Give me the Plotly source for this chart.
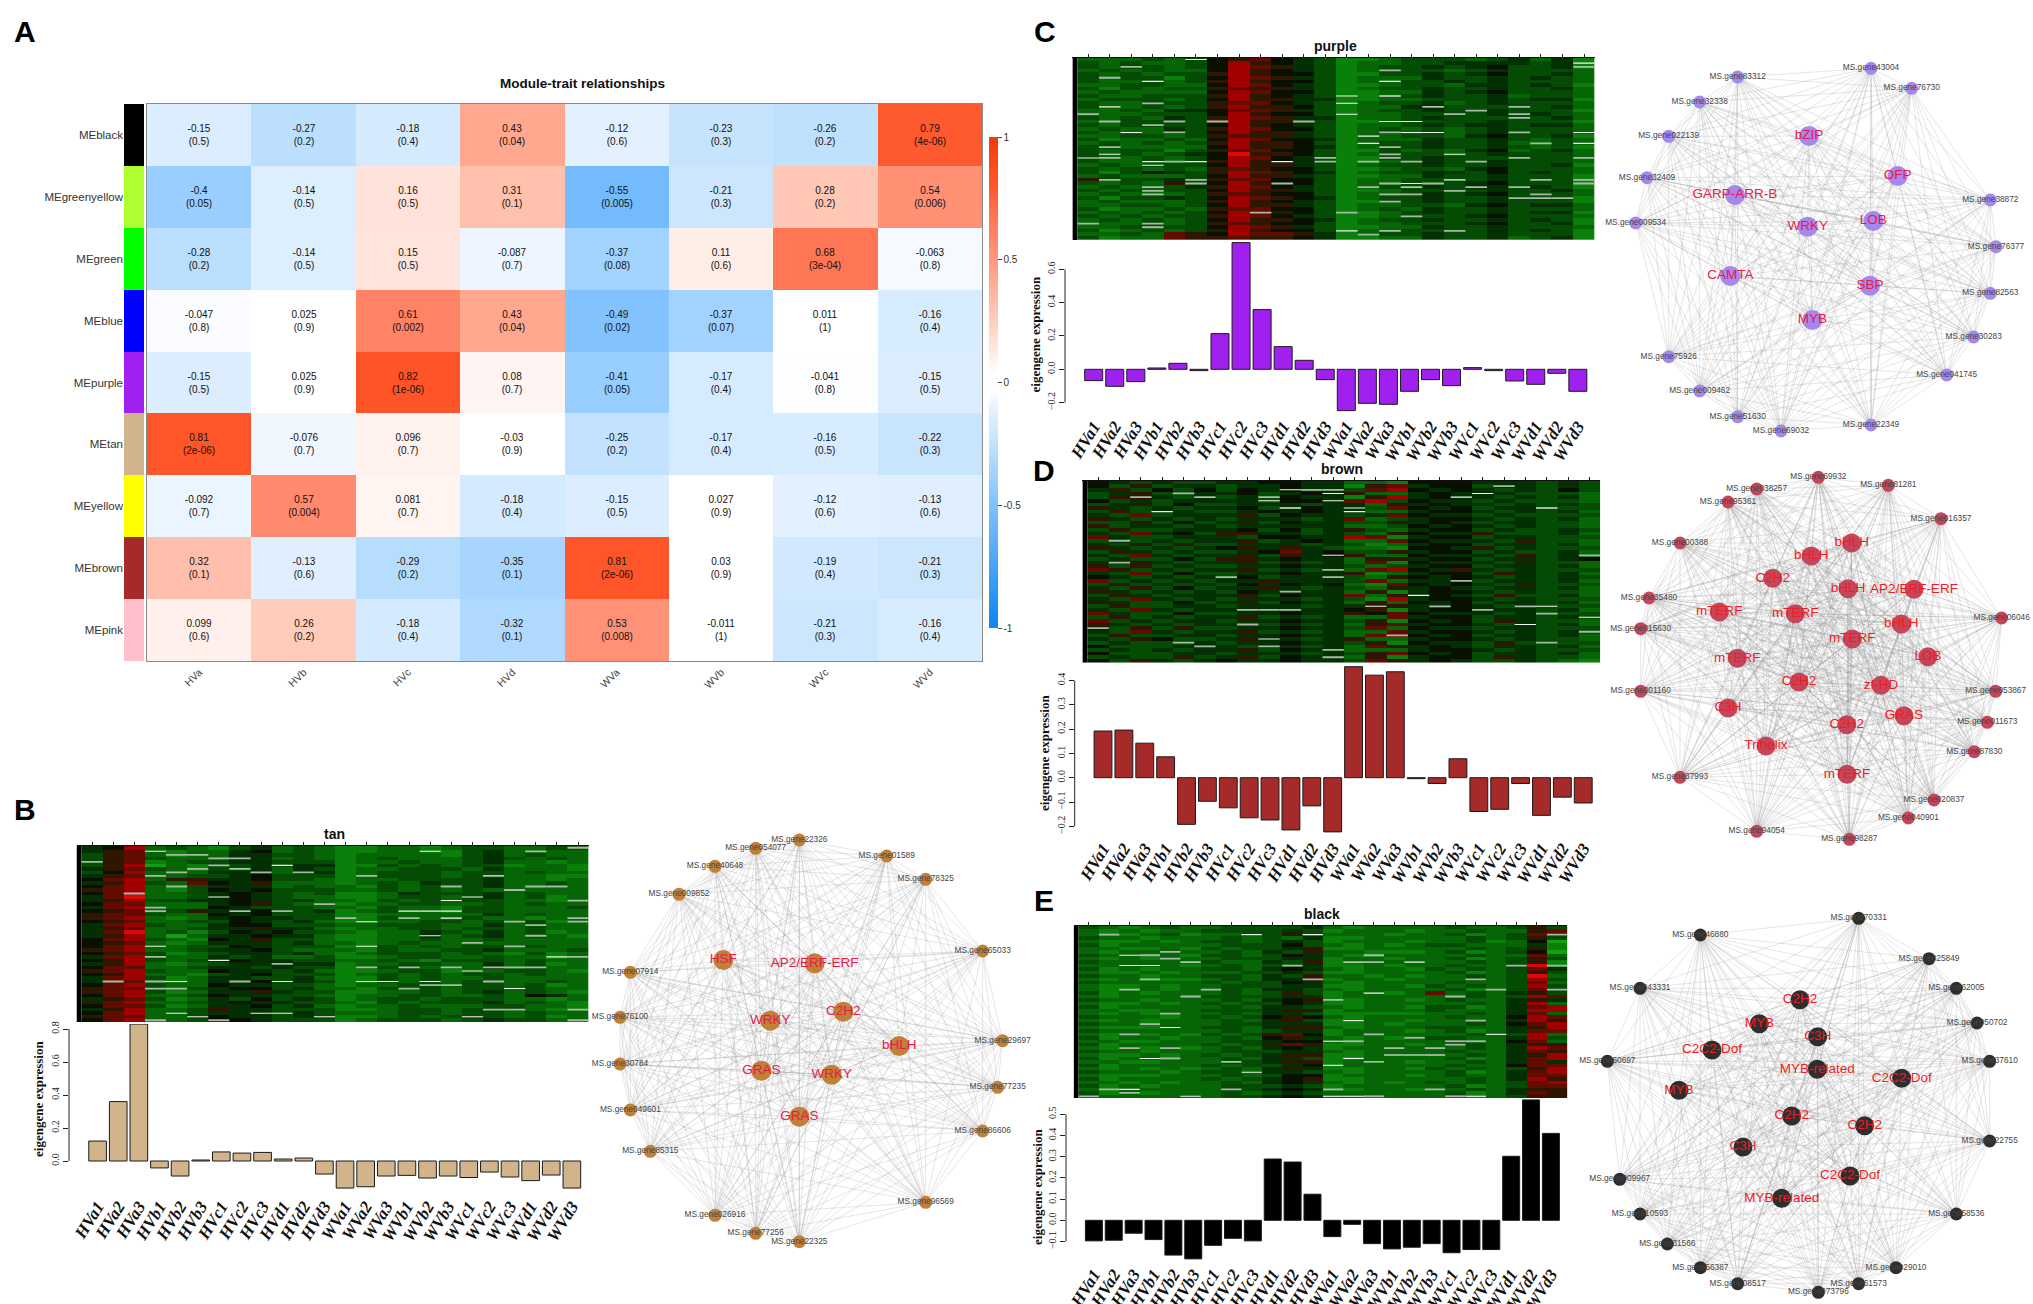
"""Five-panel WGCNA figure: module-trait heatmap, module expression heatmaps,
eigengene bars and hub-gene networks."""
from itertools import combinations

import plotly.graph_objects as go

W, H = 2033, 1304
SANS = "Liberation Sans"
SERIF = "Liberation Serif"

# ---- panel A data ----
TRAITS = ["HVa", "HVb", "HVc", "HVd", "WVa", "WVb", "WVc", "WVd"]
MODULES = ["MEblack", "MEgreenyellow", "MEgreen", "MEblue", "MEpurple", "MEtan", "MEyellow", "MEbrown", "MEpink"]
MODULE_COLORS = ["#000000", "#ADFF2F", "#00FF00", "#0000FF", "#A020F0", "#D2B48C", "#FFFF00", "#A52A2A", "#FFC0CB"]
CORR = [
    [-0.15, -0.27, -0.18, 0.43, -0.12, -0.23, -0.26, 0.79],
    [-0.4, -0.14, 0.16, 0.31, -0.55, -0.21, 0.28, 0.54],
    [-0.28, -0.14, 0.15, -0.087, -0.37, 0.11, 0.68, -0.063],
    [-0.047, 0.025, 0.61, 0.43, -0.49, -0.37, 0.011, -0.16],
    [-0.15, 0.025, 0.82, 0.08, -0.41, -0.17, -0.041, -0.15],
    [0.81, -0.076, 0.096, -0.03, -0.25, -0.17, -0.16, -0.22],
    [-0.092, 0.57, 0.081, -0.18, -0.15, 0.027, -0.12, -0.13],
    [0.32, -0.13, -0.29, -0.35, 0.81, 0.03, -0.19, -0.21],
    [0.099, 0.26, -0.18, -0.32, 0.53, -0.011, -0.21, -0.16],
]
PVALS = [
    ["0.5", "0.2", "0.4", "0.04", "0.6", "0.3", "0.2", "4e-06"],
    ["0.05", "0.5", "0.5", "0.1", "0.005", "0.3", "0.2", "0.006"],
    ["0.2", "0.5", "0.5", "0.7", "0.08", "0.6", "3e-04", "0.8"],
    ["0.8", "0.9", "0.002", "0.04", "0.02", "0.07", "1", "0.4"],
    ["0.5", "0.9", "1e-06", "0.7", "0.05", "0.4", "0.8", "0.5"],
    ["2e-06", "0.7", "0.7", "0.9", "0.2", "0.4", "0.5", "0.3"],
    ["0.7", "0.004", "0.7", "0.4", "0.5", "0.9", "0.6", "0.6"],
    ["0.1", "0.6", "0.2", "0.1", "2e-06", "0.9", "0.4", "0.3"],
    ["0.6", "0.2", "0.4", "0.1", "0.008", "1", "0.3", "0.4"],
]

# ---- sample labels and eigengene values ----
SAMPLES = [
    "HVa1", "HVa2", "HVa3", "HVb1", "HVb2", "HVb3", "HVc1", "HVc2", "HVc3", "HVd1", "HVd2", "HVd3",
    "WVa1", "WVa2", "WVa3", "WVb1", "WVb2", "WVb3", "WVc1", "WVc2", "WVc3", "WVd1", "WVd2", "WVd3",
]
TAN_EIGEN = [0.121, 0.36, 0.83, -0.042, -0.091, 0.006, 0.055, 0.048, 0.052, 0.012, 0.018, -0.079,
             -0.164, -0.156, -0.091, -0.087, -0.103, -0.091, -0.10, -0.067, -0.097, -0.119, -0.085, -0.164]
PURPLE_EIGEN = [-0.068, -0.102, -0.074, 0.008, 0.036, -0.008, 0.214, 0.76, 0.358, 0.136, 0.054, -0.062,
                -0.248, -0.204, -0.21, -0.132, -0.062, -0.098, 0.01, -0.008, -0.07, -0.09, -0.024, -0.132]
BROWN_EIGEN = [0.192, 0.196, 0.142, 0.086, -0.192, -0.097, -0.124, -0.165, -0.174, -0.215, -0.116, -0.223,
               0.457, 0.422, 0.436, -0.004, -0.024, 0.078, -0.139, -0.13, -0.024, -0.155, -0.08, -0.104]
BLACK_EIGEN = [-0.097, -0.094, -0.061, -0.091, -0.164, -0.182, -0.118, -0.085, -0.097, 0.289, 0.275, 0.123,
               -0.077, -0.019, -0.11, -0.135, -0.127, -0.11, -0.153, -0.138, -0.138, 0.302, 0.568, 0.41]

# ---- expression heatmaps: one string per band of genes, one character per sample.
# 0-9 runs green > black > red, g and w are the pale outliers. Groups are HVa HVb ... WVd.
CODES = "0123456789"
HEAT_COLORS = ["#12A012", "#0A800A", "#066606", "#044C04", "#023002", "#081000",
               "#2E1600", "#620C00", "#A00000", "#DC0808"]

TAN_ROWS = """
458 232 134 232 112 212 332 23g
467 w12 245 232 112 2w1 342 g22
367 2gg 244 332 122 221 342 322
367 322 gg4 232 123 222 343 232
g67 123 344 333 122 322 342 212
368 021 g34 w44 113 232 331 221
467 32g 3w4 243 122 333 242 221
358 2g2 44g 2g4 123 332 332 322
467 g23 345 333 1g3 332 3w2 211
578 266 445 332 122 333 342 212
468 327 546 222 123 243 342 232
578 2g3 444 232 213 23g 342 gg2
678 213 545 333 223 232 32g 222
57g 223 454 323 112 433 342 322
479 223 w54 322 112 332 w42 312
468 334 454 342 213 23w 332 21g
577 222 456 32g 122 332 232 322
478 g22 543 332 213 221 332 223
567 g36 4w5 g34 123 www 332 222
677 322 545 333 112 222 242 322
678 212 454 433 g13 g2w 322 12g
567 223 354 342 1w2 233 23g 31g
478 322 455 333 223 332 242 g22
467 223 446 442 122 332 332 322
479 231 354 533 212 243 242 312
468 202 445 442 112 2w2 342 g21
578 321 546 332 112 232 232 222
567 212 444 342 212 322 g22 222
578 w23 354 333 1w3 232 33g 322
678 223 445 322 213 223 342 223
567 312 344 342 123 332 321 312
478 g22 434 223 112 332 232 2wg
568 323 w54 433 223 213 332 322
468 212 344 g44 122 332 242 312
577 223 443 433 1g3 g2g 2gg g22
678 322 544 342 112 331 w23 321
568 221 345 333 123 232 332 322
478 312 443 342 113 232 232 222
4g7 gw2 4g5 w43 1ww 2w2 3g2 232
578 322 544 332 122 3gg 332 312
677 gg3 455 342 213 g32 33w 322
678 312 446 433 112 232 342 321
578 223 544 332 122 332 232 542
467 312 435 343 123 323 332 212
678 223 454 433 213 233 342 321
577 312 445 342 122 322 233 221
468 223 644 333 112 332 3gg 21g
578 2w3 44w w43 222 332 332 322
677 22w 544 34w 112 323 w32 312
578 g23 g54 333 123 332 343 32g
"""
PURPLE_ROWS = """
222 32w 567 543 112 333 234 241
323 223 586 543 122 334 444 34w
32g 323 587 643 123 343 453 34g
232 322 586 543 12g 332 343 332
323 233 686 553 113 343 453 342
3g3 313 587 643 122 243 343 432
322 w23 686 553 12w 334 343 332
223 322 587 543 112 332 443 431
313 233 676 643 123 343 343 342
232 222 587 553 112 243 453 332
322 333 686 543 w1g 343 342 332
233 323 586 644 112 233 343 441
322 g33 677 543 w23 342 343 332
3w2 323 686 653 122 4w3 33g 342
223 244 577 643 123 343 g43 331
g22 333 586 553 w22 33g 34g 432
323 243 687 644 122 343 33g 342
2g3 3g3 g86 6g3 11w w33 343 331
323 g33 586 543 122 343 443 442
232 243 687 553 123 232 343 332
32w 2g3 586 643 12g ww2 34g 33w
223 323 676 643 1w2 332 453 341
312 232 587 554 122 243 343 232
232 323 686 653 1w3 343 342 g3w
3g2 222 586 654 12g 343 343 231
323 313 677 553 113 232 452 342
3w3 234 596 653 12g 33w 343 332
wg2 323 587 54g 11g 343 33g 33g
322 wgw 686 w4g 1g2 g43 g43 332
232 w33 586 643 123 343 343 341
323 232 676 553 112 332 453 332
313 543 687 654 123 344 353 432
232 223 586 643 112 243 343 331
6g3 34g 677 553 122 33w 343 g3g
323 26g 586 g53 12g wg3 453 33g
232 g34 687 543 1g3 w43 w4g 431
323 g33 586 643 112 33g 343 342
232 g23 676 553 12g g43 453 g32
313 343 587 654 123 343 34g gg1
232 223 686 543 11g 343 343 331
223 323 586 643 122 332 453 442
312 232 677 553 123 243 343 332
232 323 58g 653 g12 343 343 441
323 233 687 543 112 g33 453 332
232 323 586 654 123 343 343 431
g22 g23 676 553 122 333 453 341
223 g33 587 643 112 243 343 332
312 323 686 553 w2g 33g 343 431
223 276 587 764 1g3 343 343 331
312 276 676 654 112 243 342 341
"""
BROWN_ROWS = """
543 433 445 544 221 555 444 343
536 344 344 544 167 455 3g4 343
463 535 354 wgg 378 545 434 353
346 3g4 453 45w 622 454 w43 332
36g 43w 34g 544 168 45w 434 342
534 344 44w 55w 783 544 343 332
346 353 344 434 426 454 434 343
643 434 453 g54 w37 545 344 g33
363 w43 345 454 w22 455 434 342
437 344 463 544 347 544 343 333
643 434 344 434 723 455 434 342
336 353 463 544 336 454 344 332
634 434 344 444 223 545 434 332
363 344 453 534 632 455 343 343
437 453 664 434 326 544 633 342
743 344 435 544 871 455 344 333
3g3 434 463 454 227 544 436 332
436 363 344 434 312 455 344 342
643 434 564 643 221 554 634 333
364 343 345 745 336 455 343 342
437 434 463 64w 622 544 436 34g
343 353 664 544 266 455 344 345
4g6 434 463 434 271 544 436 332
636 343 344 544 323 455 344 342
763 434 463 43g 278 546 434 333
437 353 344 544 612 455 364 342
543 434 g53 44g 326 545 434 343
734 343 446 444 372 44g 344 342
363 434 354 545 217 545 436 333
436 353 446 434 326 454 344 342
643 434 354 g44 261 455 434 332
364 344 463 544 726 w54 363 342
437 434 344 434 318 455 434 333
643 353 463 544 262 545 344 342
363 344 344 434 4w6 4g5 43g w33
437 434 4gg g44 561 455 g44 342
743 353 344 544 657 544 434 g33
363 434 463 434 227 455 344 34w
734 344 344 544 361 545 364 332
643 434 4g3 434 267 455 43w 342
g36 363 344 544 372 544 344 333
437 434 463 434 227 455 434 34g
363 344 344 544 27g 545 344 342
436 533 46w 434 622 455 434 332
343 3g4 344 544 361 544 363 g33
533 34g 43g 434 276 454 344 342
343 434 463 54g 222 455 434 333
533 344 344 434 367 545 344 342
343 363 463 54g 261 455 364 332
536 434 544 544 376 454 334 321
"""
BLACK_ROWS = """
321 232 233 334 212 222 322 363
212 122 333 343 122 212 232 267
2g1 231 22w 36w 222 122 312 37g
322 122 232 324 112 222 232 363
211 212 332 343 122 212 231 250
312 222 233 353 212 123 322 241
221 121 323 346 112 222 232 361
212 2g2 232 436 221 112 312 350
32w g21 332 354 21g 222 232 272
212 1g2 233 344 122 122 312 363
322 22w 322 436 1wg 2w2 232 361
22w w21 232 3g4 112 122 322 g9g
312 122 332 454 212 213 232 374
211 212 223 343 112 222 312 363
322 122 332 436 221 212 232 392
212 g11 232 44g 122 122 2g2 383
322 222 323 354 212 222 322 372
211 212 233 344 112 213 232 383
21g 212 g32 443 212 222 31g 37g
312 122 232 363 12w 127 232 463
212 22g 333 344 122 222 g32 387
322 122 232 456 g12 212 322 464
211 212 323 354 112 222 232 482
312 222 232 443 212 213 312 478
221 122 333 466 122 223 222 488
212 1g2 232 443 111 112 232 472
322 212 323 565 212 222 322 587
212 122 232 463 1w2 212 2g2 486
322 g22 233 444 112 122 232 578
211 1w2 332 466 212 223 322 468
322 222 232 344 122 212 312 477
21g 121 323 675 12g 222 23w 382
312 212 232 564 212 1g3 322 483
221 122 233 455 wg2 222 gg2 572
312 222 323 676 112 212 g32 466
21g 1g1 232 454 122 g2g 232 487
322 122 233 344 212 222 322 476
211 212 323 466 112 wwg 232 468
312 wg2 232 443 1w2 222 312 478
221 122 2w3 466 12w 212 232 474
312 222 323 345 w22 222 322 577
212 121 232 464 112 213 232 368
322 212 33w 443 212 222 312 478
211 122 232 355 122 212 322 477
312 222 323 456 112 222 232 486
221 212 232 454 212 123 232 378
312 122 233 343 122 222 312 377
2gw 222 2g3 454 g12 21g 232 466
31g 122 232 343 222 222 312 476
g22 22w 233 454 wwg 222 gw2 366
"""

# ---- networks: positions are on a 3x grid of each network's own box ----
TAN_GENES = ["MS.gene22326", "MS.gene01589", "MS.gene78325", "MS.gene65033", "MS.gene29697", "MS.gene77235",
             "MS.gene86606", "MS.gene96569", "MS.gene22325", "MS.gene77256", "MS.gene026916", "MS.gene85315",
             "MS.gene049601", "MS.gene30784", "MS.gene76100", "MS.gene07914", "MS.gene009852", "MS.gene40648",
             "MS.gene054077"]
TAN_GENE_X = [658, 920, 1037, 1208, 1268, 1253, 1208, 1037, 658, 527, 405, 211, 151, 120, 120, 151, 297, 405, 527]
TAN_GENE_Y = [180, 228, 298, 513, 782, 922, 1053, 1267, 1385, 1360, 1306, 1114, 990, 852, 712, 577, 343, 259, 205]
TAN_TFS = ["HSF", "AP2/ERF-ERF", "C2H2", "WRKY", "bHLH", "GRAS", "WRKY", "GRAS"]
TAN_TF_X = [430, 704, 790, 571, 958, 544, 755, 658]
TAN_TF_Y = [540, 550, 695, 722, 798, 872, 884, 1010]

PURPLE_GENES = ["MS.gene43004", "MS.gene76730", "MS.gene38872", "MS.gene76377", "MS.gene82563", "MS.gene30283",
                "MS.gene041745", "MS.gene22349", "MS.gene69032", "MS.gene51630", "MS.gene009462", "MS.gene75926",
                "MS.gene009534", "MS.gene32409", "MS.gene022139", "MS.gene32338", "MS.gene83312"]
PURPLE_GENE_X = [813, 935, 1171, 1188, 1171, 1121, 1040, 813, 543, 413, 299, 206, 107, 141, 206, 299, 413]
PURPLE_GENE_Y = [205, 265, 600, 740, 880, 1011, 1125, 1275, 1293, 1250, 1173, 1070, 669, 533, 409, 306, 231]
PURPLE_TFS = ["bZIP", "OFP", "GARP-ARR-B", "WRKY", "LOB", "CAMTA", "SBP", "MYB"]
PURPLE_TF_X = [627, 893, 405, 623, 820, 391, 810, 637]
PURPLE_TF_Y = [408, 528, 585, 680, 663, 828, 857, 960]

BROWN_GENES = ["MS.gene69932", "MS.gene81281", "MS.gene016357", "MS.gene06046", "MS.gene053867", "MS.gene011673",
               "MS.gene87830", "MS.gene020837", "MS.gene040901", "MS.gene98287", "MS.gene94054", "MS.gene37993",
               "MS.gene001160", "MS.gene015630", "MS.gene35480", "MS.gene00388", "MS.gene95361", "MS.gene038257"]
BROWN_GENE_X = [655, 865, 1023, 1205, 1187, 1162, 1123, 1002, 925, 748, 470, 240, 122, 122, 147, 240, 384, 470]
BROWN_GENE_Y = [52, 76, 176, 474, 694, 787, 875, 1020, 1074, 1138, 1114, 952, 694, 506, 414, 249, 126, 87]
BROWN_TFS = ["bHLH", "bHLH", "C2H2", "bHLH", "AP2/ERF-ERF", "mTERF", "mTERF", "bHLH", "mTERF", "LOB", "mTERF",
             "C2H2", "zf-HD", "C3H", "GRAS", "C2H2", "Trihelix", "mTERF"]
BROWN_TF_X = [755, 634, 518, 744, 942, 358, 586, 904, 757, 984, 412, 597, 843, 384, 912, 740, 498, 741]
BROWN_TF_Y = [249, 288, 355, 386, 388, 456, 461, 492, 537, 590, 595, 666, 676, 744, 767, 794, 858, 943]

BLACK_GENES = ["MS.gene70331", "MS.gene025849", "MS.gene62005", "MS.gene050702", "MS.gene37610", "MS.gene22755",
               "MS.gene58536", "MS.gene029010", "MS.gene61573", "MS.gene073796", "MS.gene08517", "MS.gene56387",
               "MS.gene31566", "MS.gene10593", "MS.gene009967", "MS.gene50697", "MS.gene043331", "MS.gene46880"]
BLACK_GENE_X = [776, 987, 1069, 1131, 1169, 1169, 1069, 888, 776, 655, 413, 301, 202, 120, 59, 22, 120, 301]
BLACK_GENE_Y = [55, 176, 265, 369, 484, 723, 942, 1103, 1151, 1177, 1151, 1103, 1032, 942, 838, 484, 265, 105]
BLACK_TFS = ["C2H2", "MYB", "C3H", "C2C2-Dof", "MYB-related", "C2C2-Dof", "MYB", "C2H2", "C2H2", "C3H",
             "C2C2-Dof", "MYB-related"]
BLACK_TF_X = [600, 478, 653, 336, 652, 905, 237, 575, 794, 429, 750, 545]
BLACK_TF_Y = [299, 371, 410, 450, 508, 535, 571, 648, 677, 741, 828, 895]

# correlation colours, WGCNA blue-white-red as it looks in the cells
CORR_SCALE = [
    [0.0, "#0F85EE"], [0.25, "#7FC1FF"], [0.375, "#C2E2FE"], [0.44, "#E2F0FF"], [0.485, "#FFFFFF"], [0.515, "#FFFFFF"],
    [0.55, "#FFF0EB"], [0.63, "#FFCBBB"], [0.715, "#FFA78F"], [0.77, "#FF9074"], [0.84, "#FF7654"],
    [0.905, "#FF5528"], [1.0, "#F23A0C"],
]


def dom_x(left, right):
    return [left / W, right / W]


def dom_y(top, bottom):
    return [1 - bottom / H, 1 - top / H]


def parse_rows(block):
    """Colour codes per cell, plus the thin pale outlier stripes as (row, col) lists."""
    rows = [line.replace(" ", "") for line in block.strip().splitlines()]
    z, grey, white = [], [], []
    for r, row in enumerate(rows):
        cells = []
        for c, ch in enumerate(row):
            if ch in CODES:
                cells.append(CODES.index(ch) + 0.5)
            else:
                (white if ch == "w" else grey).append((r, c))
                # the band around an outlier keeps the colour of the band above it
                cells.append(z[-1][c] if z else 3.5)
        z.append(cells)
    return z, grey, white


def stripe_coords(cells):
    xs, ys = [], []
    for r, c in cells:
        xs += [c - 0.5, c + 0.5, None]
        ys += [r, r, None]
    return xs, ys


def stepped_scale():
    n = len(HEAT_COLORS)
    scale = []
    for i, color in enumerate(HEAT_COLORS):
        scale += [[i / n, color], [(i + 1) / n, color]]
    return scale


fig = go.Figure()
axis_count = 0
layout_axes = {}


def new_axes(xaxis, yaxis):
    global axis_count
    axis_count += 1
    suffix = "" if axis_count == 1 else str(axis_count)
    layout_axes["xaxis" + suffix] = dict(anchor="y" + suffix, **xaxis)
    layout_axes["yaxis" + suffix] = dict(anchor="x" + suffix, **yaxis)
    return "x" + suffix, "y" + suffix


def note(text, x, y, size, family=SANS, bold=False, angle=0, color="#111111"):
    fig.add_annotation(
        text=f"<b>{text}</b>" if bold else text,
        x=x / W, y=1 - y / H, xref="paper", yref="paper",
        xanchor="center", yanchor="middle", showarrow=False, textangle=angle,
        font=dict(family=family, size=size, color=color),
    )


# ---- panel A ----
cell_text = [[f"{c}<br>({p})" for c, p in zip(cs, ps)] for cs, ps in zip(CORR, PVALS)]
xa, ya = new_axes(
    dict(domain=dom_x(147, 982), tickangle=-45, ticks="", tickfont=dict(family=SANS, size=10.5, color="#444444"),
         showline=True, mirror=True, linecolor="#8A8A8A", linewidth=1),
    dict(domain=dom_y(104, 661), autorange="reversed", showticklabels=False, ticks="",
         showline=True, mirror=True, linecolor="#8A8A8A", linewidth=1),
)
fig.add_trace(go.Heatmap(
    x=TRAITS, y=MODULES, z=CORR, zmin=-1, zmax=1, colorscale=CORR_SCALE,
    text=cell_text, texttemplate="%{text}", textfont=dict(family=SANS, size=10, color="#111111"),
    xaxis=xa, yaxis=ya,
    colorbar=dict(
        x=989 / W, xanchor="left", xpad=0, y=1 - 382.5 / H, yanchor="middle", ypad=0,
        lenmode="pixels", len=491, thicknessmode="pixels", thickness=9, outlinewidth=0,
        tickvals=[-1, -0.5, 0, 0.5, 1], ticktext=["-1", "-0.5", "0", "0.5", "1"], ticks="outside", ticklen=4,
        tickfont=dict(family=SANS, size=10, color="#333333"),
    ),
))
xa, ya = new_axes(
    dict(domain=dom_x(124, 144), visible=False),
    dict(domain=dom_y(104, 661), autorange="reversed", ticks="", showline=False,
         tickfont=dict(family=SANS, size=11.5, color="#333333")),
)
n_mod = len(MODULES)
fig.add_trace(go.Heatmap(
    x=["module"], y=MODULES, z=[[i] for i in range(n_mod)], zmin=0, zmax=n_mod - 1, showscale=False,
    colorscale=[[i / (n_mod - 1), c] for i, c in enumerate(MODULE_COLORS)],
    xaxis=xa, yaxis=ya, hoverinfo="skip",
))
note("Module-trait relationships", 582, 84, 13.5, bold=True)

# ---- panels B-E: expression heatmap over eigengene bars ----
PANELS = [
    dict(name="tan", color="#D2B48C", rows=TAN_ROWS, eigen=TAN_EIGEN,
         heat=(76.5, 81.5, 588.6, 846, 1022), title=(334, 834),
         axis_x=69, bar0=97.6, bar_step=20.62, right=590, zero=1161, unit=165, top=1024, bottom=1192,
         ticks=[0, 0.2, 0.4, 0.6, 0.8], label=(38, 1099)),
    dict(name="purple", color="#A020F0", rows=PURPLE_ROWS, eigen=PURPLE_EIGEN,
         heat=(1072.4, 1077.4, 1594.8, 57.7, 240), title=(1335, 46),
         axis_x=1065, bar0=1093.7, bar_step=21.05, right=1596, zero=369.3, unit=166.7, top=242, bottom=412,
         ticks=[-0.2, 0, 0.2, 0.4, 0.6], label=(1034.5, 335)),
    dict(name="brown", color="#A52A2A", rows=BROWN_ROWS, eigen=BROWN_EIGEN,
         heat=(1082.4, 1087.4, 1600.2, 480.7, 662.7), title=(1342, 469),
         axis_x=1074.7, bar0=1103, bar_step=20.88, right=1601, zero=777.7, unit=243, top=664, bottom=834,
         ticks=[-0.2, -0.1, 0, 0.1, 0.2, 0.3, 0.4], label=(1044, 753)),
    dict(name="black", color="#000000", rows=BLACK_ROWS, eigen=BLACK_EIGEN,
         heat=(1073.6, 1078.6, 1567.3, 926, 1098), title=(1321.6, 914),
         axis_x=1066, bar0=1093.9, bar_step=19.87, right=1568, zero=1220.3, unit=212, top=1099, bottom=1260,
         ticks=[-0.1, 0, 0.1, 0.2, 0.3, 0.4, 0.5], label=(1037, 1187)),
]

for p in PANELS:
    left, cells_left, right, top, bottom = p["heat"]
    z, grey, white = parse_rows(p["rows"])
    cell_w = (right - cells_left) / 24
    xa, ya = new_axes(
        dict(domain=dom_x(left, right), range=[-0.5 - (cells_left - left) / cell_w, 23.5], side="top",
             tickvals=list(range(24)), showticklabels=False, ticks="outside", ticklen=3, tickwidth=1,
             tickcolor="#222222", showline=True, linecolor="#111111", linewidth=1, showgrid=False, zeroline=False),
        dict(domain=dom_y(top, bottom), range=[len(z) - 0.5, -0.5], visible=False),
    )
    # black strip R leaves down the left of the image
    fig.add_shape(type="rect", xref=xa, yref=ya, x0=-0.5 - (cells_left - left) / cell_w, x1=-0.5,
                  y0=-0.5, y1=len(z) - 0.5, fillcolor="#000000", line_width=0, layer="below")
    fig.add_trace(go.Heatmap(
        x=list(range(24)), y=list(range(len(z))), z=z, zmin=0, zmax=len(HEAT_COLORS), showscale=False,
        colorscale=stepped_scale(), xaxis=xa, yaxis=ya, hoverinfo="skip",
    ))
    gx, gy = stripe_coords(grey)
    fig.add_trace(go.Scatter(x=gx, y=gy, mode="lines", xaxis=xa, yaxis=ya, hoverinfo="skip", showlegend=False,
                             line=dict(color="#A9B9A9", width=1.8)))
    wx, wy = stripe_coords(white)
    fig.add_trace(go.Scatter(x=wx, y=wy, mode="lines", xaxis=xa, yaxis=ya, hoverinfo="skip", showlegend=False,
                             line=dict(color="#F2F2F2", width=1.1)))
    note(p["name"], p["title"][0], p["title"][1], 14, bold=True)

    x0 = (p["axis_x"] - p["bar0"]) / p["bar_step"]
    x1 = (p["right"] - p["bar0"]) / p["bar_step"]
    y1 = (p["zero"] - p["top"]) / p["unit"]
    y0 = (p["zero"] - p["bottom"]) / p["unit"]
    xa, ya = new_axes(
        dict(domain=dom_x(p["axis_x"], p["right"]), range=[x0, x1], type="category",
             tickvals=SAMPLES, ticktext=[f"<b><i>{s}</i></b>" for s in SAMPLES], tickangle=-58,
             ticks="", showline=False, showgrid=False, zeroline=False,
             tickfont=dict(family=SERIF, size=17, color="#111111")),
        dict(domain=dom_y(p["top"], p["bottom"]), range=[y0, y1], tickvals=p["ticks"], tickformat=".1f",
             tickangle=-90, ticks="outside", ticklen=5, tickwidth=1, tickcolor="#222222",
             showline=False, showgrid=False, zeroline=False,
             tickfont=dict(family=SERIF, size=10, color="#222222")),
    )
    fig.add_trace(go.Bar(
        x=SAMPLES, y=p["eigen"], xaxis=xa, yaxis=ya, width=0.855,
        marker=dict(color=p["color"], line=dict(color="#1A1A1A", width=1)),
        cliponaxis=False, showlegend=False,
    ))
    fig.add_shape(type="line", xref=f"{xa} domain", yref=ya, x0=0, x1=0,
                  y0=p["ticks"][0], y1=p["ticks"][-1], line=dict(color="#222222", width=1))
    note("eigengene expression", p["label"][0], p["label"][1], 13, family=SERIF, bold=True, angle=-90)

# ---- networks ----
NETWORKS = [
    dict(box=(580, 1060, 780, 1304), genes=TAN_GENES, gx=TAN_GENE_X, gy=TAN_GENE_Y,
         tfs=TAN_TFS, tx=TAN_TF_X, ty=TAN_TF_Y, color="#C08038", label="#E6194B", hub=20),
    dict(box=(1600, 2033, 0, 460), genes=PURPLE_GENES, gx=PURPLE_GENE_X, gy=PURPLE_GENE_Y,
         tfs=PURPLE_TFS, tx=PURPLE_TF_X, ty=PURPLE_TF_Y, color="#A588EE", label="#E6194B", hub=20),
    dict(box=(1600, 2033, 460, 880), genes=BROWN_GENES, gx=BROWN_GENE_X, gy=BROWN_GENE_Y,
         tfs=BROWN_TFS, tx=BROWN_TF_X, ty=BROWN_TF_Y, color="#C4465A", label="#EE1C25", hub=19),
    dict(box=(1600, 2033, 900, 1304), genes=BLACK_GENES, gx=BLACK_GENE_X, gy=BLACK_GENE_Y,
         tfs=BLACK_TFS, tx=BLACK_TF_X, ty=BLACK_TF_Y, color="#2E2E2E", label="#EE1C25", hub=19),
]

for net in NETWORKS:
    l, r, t, b = net["box"]
    xa, ya = new_axes(
        dict(domain=dom_x(l, r), range=[0, (r - l) * 3], visible=False),
        dict(domain=dom_y(t, b), range=[(b - t) * 3, 0], visible=False),
    )
    all_x = net["gx"] + net["tx"]
    all_y = net["gy"] + net["ty"]
    ex, ey = [], []
    for i, j in combinations(range(len(all_x)), 2):
        ex += [all_x[i], all_x[j], None]
        ey += [all_y[i], all_y[j], None]
    fig.add_trace(go.Scatter(x=ex, y=ey, mode="lines", xaxis=xa, yaxis=ya, hoverinfo="skip", showlegend=False,
                             line=dict(color="rgba(135,135,135,0.3)", width=0.7)))
    fig.add_trace(go.Scatter(
        x=net["gx"], y=net["gy"], text=net["genes"], mode="markers+text", textposition="middle center",
        xaxis=xa, yaxis=ya, cliponaxis=False, showlegend=False,
        marker=dict(size=13, color=net["color"]),
        textfont=dict(family=SANS, size=8.3, color="#444444"),
    ))
    fig.add_trace(go.Scatter(
        x=net["tx"], y=net["ty"], text=net["tfs"], mode="markers+text", textposition="middle center",
        xaxis=xa, yaxis=ya, cliponaxis=False, showlegend=False,
        marker=dict(size=net["hub"], color=net["color"]),
        textfont=dict(family=SANS, size=13.5, color=net["label"]),
    ))

for letter, x, y in [("A", 25, 32), ("B", 25, 809), ("C", 1045, 32), ("D", 1044, 470), ("E", 1044, 901)]:
    note(letter, x, y, 30, bold=True, color="#000000")

fig.update_layout(
    width=W, height=H, margin=dict(l=0, r=0, t=0, b=0, autoexpand=False), showlegend=False,
    paper_bgcolor="white", plot_bgcolor="rgba(0,0,0,0)", **layout_axes,
)
fig.write_html("out.html", config=dict(displayModeBar=False), post_script="document.body.style.margin='0';")
